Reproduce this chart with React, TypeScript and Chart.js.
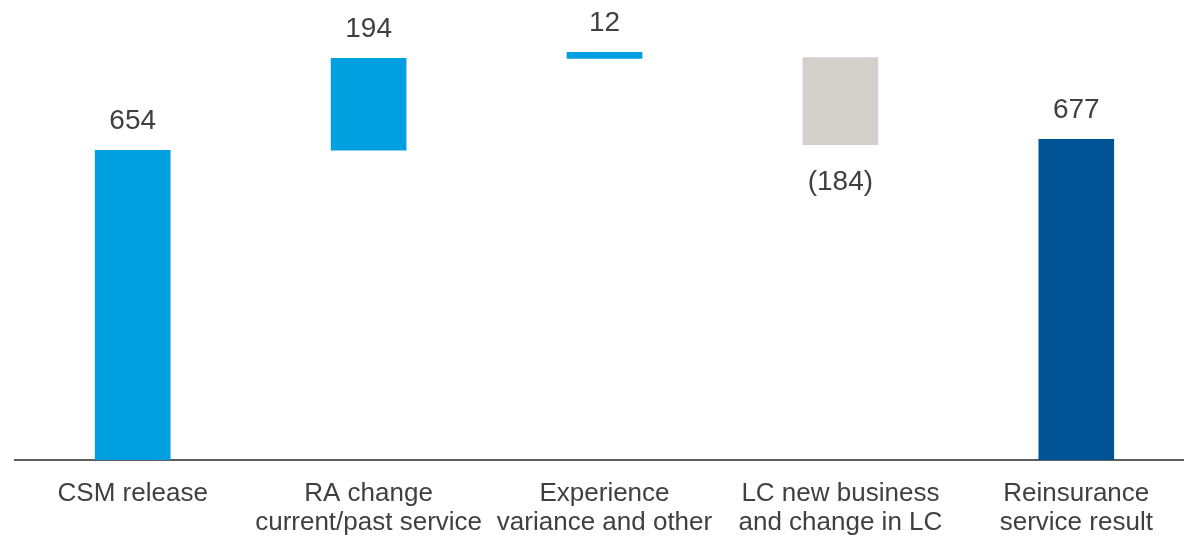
import React, { useEffect, useRef } from "react";
import { Chart, registerables } from "chart.js";

Chart.register(...registerables);

// ---- data ----
const categories: string[][] = [
  ["CSM release"],
  ["RA change", "current/past service"],
  ["Experience", "variance and other"],
  ["LC new business", "and change in LC"],
  ["Reinsurance", "service result"],
];
const barLow = [0, 654, 848, 666, 0];
const barHigh = [654, 848, 861, 850, 677];
const valueLabels = ["654", "194", "12", "(184)", "677"];
const isNegative = [false, false, false, true, false];
const yMax = 900;

const barColors = ["#009FDF", "#009FDF", "#009FDF", "#D3D0CB", "#005394"];
const FONT = "'Liberation Sans', Arial, Helvetica, sans-serif";

const valueLabelPlugin = {
  id: "valueLabels",
  afterDatasetsDraw(chart: any) {
    const ctx = chart.ctx;
    const meta = chart.getDatasetMeta(0);
    ctx.save();
    ctx.font = `28px ${FONT}`;
    ctx.fillStyle = "#404040";
    ctx.textAlign = "center";
    ctx.textBaseline = "alphabetic";
    meta.data.forEach((el: any, i: number) => {
      const { x, y, base } = el.getProps(["x", "y", "base"], true);
      const top = Math.min(y, base);
      const bottom = Math.max(y, base);
      if (isNegative[i]) ctx.fillText(valueLabels[i], x, bottom + 45);
      else ctx.fillText(valueLabels[i], x, top - 21.5);
    });
    ctx.restore();
  },
};

export default function App() {
  const ref = useRef<HTMLCanvasElement | null>(null);
  useEffect(() => {
    if (!ref.current) return;
    const chart = new Chart(ref.current, {
      type: "bar",
      data: {
        labels: categories,
        datasets: [
          {
            data: barLow.map((lo, i) => [lo, barHigh[i]]),
            backgroundColor: barColors,
            borderWidth: 0,
            barThickness: 75,
          } as any,
        ],
      },
      options: {
        animation: false,
        responsive: false,
        devicePixelRatio: 1,
        layout: { padding: { left: 14.75, right: 3.75, top: 33.8, bottom: 0 } },
        plugins: { legend: { display: false }, tooltip: { enabled: false } },
        scales: {
          x: {
            offset: true,
            grid: { display: false, drawTicks: false },
            border: { display: true, color: "#5E5E5E", width: 2 },
            ticks: {
              autoSkip: false,
              maxRotation: 0,
              minRotation: 0,
              padding: 19,
              color: "#404040",
              font: { family: FONT, size: 26, lineHeight: 29 / 26 },
            },
          },
          y: {
            display: false,
            min: 0,
            max: yMax,
          },
        },
      },
      plugins: [valueLabelPlugin],
    });
    return () => chart.destroy();
  }, []);
  return (
    <div
      style={{
        position: "fixed",
        left: 0,
        top: 0,
        width: 1184,
        height: 536,
        overflow: "hidden",
        background: "#fff",
      }}
    >
      <canvas ref={ref} width={1198} height={556} style={{ display: "block" }} />
    </div>
  );
}
